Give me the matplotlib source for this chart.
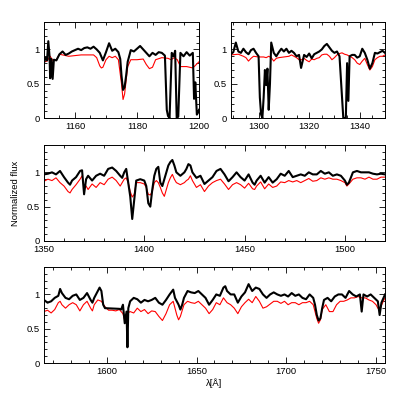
import numpy as np
import matplotlib
matplotlib.use("Agg")
import matplotlib.pyplot as plt
from matplotlib.ticker import MultipleLocator, FormatStrFormatter

# ---------------------------------------------------------------------------
# spectrum values (wavelength in Angstrom, normalized flux)
# ---------------------------------------------------------------------------

# panel 1 : 1150 - 1200
wl_obs_1 = [1150, 1150.5, 1151, 1151.4, 1151.8, 1152, 1152.4, 1152.8, 1153.2, 1154, 1155, 1156, 1157,
            1158, 1159, 1160, 1161, 1162, 1163, 1164, 1165, 1166, 1167, 1168, 1169, 1170, 1171,
            1172, 1173, 1174, 1174.6, 1175, 1175.5, 1176, 1176.5, 1177, 1178, 1179, 1180, 1181,
            1182, 1183, 1184, 1185, 1186, 1187, 1188, 1189, 1189.6, 1190, 1190.5, 1191.2, 1191.8,
            1192.3, 1192.8, 1193.3, 1194, 1195, 1196, 1197, 1198, 1198.4, 1198.8, 1199.3, 1199.7, 1200]
fl_obs_1 = [0.80, 0.88, 0.84, 1.12, 0.90, 0.58, 0.86, 0.57, 0.85, 0.84, 0.93, 0.97, 0.92,
            0.94, 0.97, 0.99, 1.01, 0.99, 1.02, 1.03, 1.01, 1.04, 1.00, 0.95, 0.84, 0.96, 1.09,
            0.98, 1.01, 0.96, 0.86, 0.62, 0.41, 0.45, 0.62, 0.82, 0.99, 0.97, 1.01, 1.05,
            1.00, 0.95, 0.90, 0.95, 0.92, 0.96, 0.95, 0.91, 0.12, 0.03, 0.00, 0.95, 0.90,
            0.98, 0.00, 0.02, 0.95, 0.90, 0.96, 0.91, 0.95, 0.28, 0.52, 0.05, 0.08, 0.12]
wl_mod_1 = [1150, 1151, 1152, 1153, 1154, 1155, 1156, 1158, 1160, 1162, 1164, 1166, 1167, 1168,
            1168.5, 1169, 1170, 1171, 1172, 1173, 1174, 1175, 1175.5, 1176, 1177, 1178, 1180,
            1182, 1183, 1184, 1185, 1186, 1188, 1190, 1191, 1192, 1193, 1194, 1196, 1198, 1200]
fl_mod_1 = [0.82, 0.83, 0.90, 0.83, 0.85, 0.93, 0.92, 0.90, 0.91, 0.92, 0.92, 0.92, 0.88, 0.76,
            0.73, 0.74, 0.85, 0.90, 0.88, 0.90, 0.85, 0.50, 0.27, 0.35, 0.75, 0.85, 0.85,
            0.86, 0.78, 0.72, 0.74, 0.85, 0.88, 0.87, 0.85, 0.88, 0.85, 0.75, 0.75, 0.73, 0.82]

# panel 2 : 1289 - 1350
wl_obs_2 = [1289, 1290, 1291, 1292, 1293, 1294, 1295, 1296, 1297, 1298, 1299, 1300, 1300.5, 1301,
            1301.5, 1302, 1302.5, 1303, 1303.5, 1304, 1304.5, 1305, 1306, 1307, 1308, 1309, 1310,
            1311, 1312, 1313, 1314, 1315, 1316, 1316.8, 1318, 1319, 1320, 1321, 1322, 1323, 1324,
            1325, 1326, 1327, 1328, 1329, 1330, 1331, 1332, 1333, 1333.5, 1334, 1334.5, 1335,
            1335.5, 1336, 1337, 1338, 1339, 1340, 1341, 1342, 1343, 1344, 1345, 1346, 1347, 1348,
            1349, 1350]
fl_obs_2 = [0.93, 0.96, 1.10, 0.97, 0.95, 1.01, 0.96, 0.93, 0.99, 1.01, 0.95, 0.90, 0.30, 0.05,
            0.00, 0.30, 0.70, 0.48, 0.72, 0.12, 0.50, 1.10, 0.95, 0.90, 0.96, 1.01, 0.97,
            1.01, 0.95, 0.98, 0.95, 0.90, 0.92, 0.73, 0.92, 0.89, 0.94, 0.87, 0.93, 0.95, 0.97,
            1.00, 1.05, 1.08, 1.03, 0.98, 0.95, 0.97, 0.90, 0.30, 0.00, 0.00, 0.00, 0.80,
            0.25, 0.90, 0.92, 0.92, 0.88, 0.90, 1.01, 0.95, 0.85, 0.72, 0.80, 0.95, 0.94, 0.96,
            0.98, 0.95]
wl_mod_2 = [1289, 1292, 1294, 1295, 1296, 1297, 1298, 1300, 1302, 1303, 1304, 1305, 1306, 1307,
            1308, 1310, 1312, 1313, 1314, 1315, 1316, 1317, 1318, 1319, 1320, 1321, 1322, 1323,
            1324, 1325, 1326, 1327, 1328, 1329, 1330, 1331, 1332, 1333, 1334, 1335, 1336, 1337,
            1338, 1339, 1340, 1341, 1342, 1343, 1344, 1345, 1346, 1347, 1348, 1349, 1350]
fl_mod_2 = [0.92, 0.93, 0.90, 0.88, 0.83, 0.87, 0.90, 0.89, 0.89, 0.88, 0.90, 0.88, 0.83, 0.87,
            0.88, 0.89, 0.90, 0.92, 0.90, 0.88, 0.85, 0.85, 0.87, 0.84, 0.82, 0.86, 0.85, 0.87,
            0.88, 0.92, 0.93, 0.93, 0.90, 0.85, 0.88, 0.92, 0.94, 0.95, 0.93, 0.92, 0.90, 0.88,
            0.85, 0.80, 0.78, 0.83, 0.87, 0.78, 0.70, 0.75, 0.85, 0.88, 0.90, 0.90, 0.92]

# panel 3 : 1350 - 1520
wl_obs_3 = [1350, 1352, 1354, 1356, 1358, 1360, 1362, 1363, 1364, 1366, 1368, 1369, 1370, 1371,
            1372, 1374, 1376, 1378, 1380, 1382, 1384, 1386, 1388, 1389, 1390, 1391, 1392, 1393,
            1394, 1395, 1396, 1398, 1400, 1401, 1402, 1403, 1404, 1405, 1406, 1407, 1408, 1409,
            1410, 1411, 1412, 1413, 1414, 1415, 1416, 1418, 1420, 1421, 1422, 1423, 1424, 1426,
            1428, 1430, 1432, 1434, 1436, 1438, 1440, 1442, 1444, 1446, 1448, 1450, 1452, 1454,
            1455, 1456, 1458, 1460, 1462, 1464, 1466, 1468, 1470, 1472, 1474, 1476, 1478, 1480,
            1482, 1484, 1486, 1488, 1490, 1492, 1494, 1496, 1498, 1500, 1501, 1502, 1504, 1506,
            1508, 1510, 1512, 1514, 1516, 1518, 1520]
fl_obs_3 = [0.97, 0.98, 1.00, 0.97, 1.02, 0.93, 0.85, 0.82, 0.88, 0.93, 1.02, 1.03, 0.68, 0.90,
            0.95, 0.88, 0.95, 0.98, 0.95, 1.05, 1.07, 1.02, 0.95, 0.92, 1.00, 1.05, 0.85, 0.65,
            0.32, 0.60, 0.88, 0.90, 0.88, 0.80, 0.55, 0.50, 0.75, 0.95, 1.05, 1.08, 0.85, 0.80,
            0.90, 1.00, 1.10, 1.15, 1.18, 1.10, 1.00, 0.95, 1.00, 1.05, 1.12, 1.10, 1.00, 0.92,
            0.95, 0.83, 0.88, 0.93, 1.02, 1.05, 0.97, 0.87, 0.93, 1.00, 0.93, 0.88, 0.97, 0.85,
            0.82, 0.88, 0.95, 0.85, 0.93, 0.85, 0.90, 0.98, 0.95, 1.02, 0.93, 0.95, 0.97, 0.95,
            1.00, 0.97, 0.97, 1.02, 0.98, 1.00, 0.95, 0.97, 0.95, 0.88, 0.82, 0.85, 1.00, 1.02,
            1.00, 1.00, 1.00, 0.98, 0.97, 0.98, 0.97]
wl_mod_3 = wl_obs_3
fl_mod_3 = [0.87, 0.90, 0.88, 0.92, 0.85, 0.80, 0.72, 0.70, 0.75, 0.82, 0.90, 0.95, 0.78, 0.80,
            0.75, 0.83, 0.78, 0.85, 0.82, 0.90, 0.93, 0.88, 0.80, 0.85, 0.90, 0.92, 0.85, 0.72,
            0.64, 0.68, 0.85, 0.85, 0.83, 0.78, 0.68, 0.67, 0.72, 0.85, 0.88, 0.85, 0.78, 0.70,
            0.65, 0.75, 0.85, 0.92, 0.97, 0.90, 0.85, 0.82, 0.85, 0.88, 0.90, 0.95, 0.88, 0.78,
            0.82, 0.72, 0.80, 0.85, 0.88, 0.90, 0.83, 0.75, 0.82, 0.85, 0.82, 0.77, 0.84, 0.76,
            0.75, 0.80, 0.86, 0.76, 0.83, 0.78, 0.80, 0.86, 0.85, 0.88, 0.86, 0.88, 0.85, 0.88,
            0.91, 0.87, 0.88, 0.92, 0.90, 0.92, 0.90, 0.90, 0.88, 0.85, 0.80, 0.83, 0.90, 0.92,
            0.92, 0.90, 0.93, 0.90, 0.90, 0.93, 0.93]

# panel 4 : 1565 - 1755
wl_obs_4 = [1565, 1567, 1569, 1571, 1573, 1574, 1575, 1577, 1579, 1581, 1583, 1585, 1587, 1589,
            1591, 1592, 1593, 1595, 1596, 1597, 1598, 1599, 1607, 1608, 1609, 1610, 1611, 1611.5,
            1612, 1613, 1615, 1617, 1619, 1621, 1623, 1625, 1627, 1629, 1631, 1633, 1635, 1637,
            1638, 1640, 1641, 1642, 1643, 1645, 1647, 1649, 1651, 1653, 1655, 1657, 1659, 1661,
            1663, 1665, 1666, 1667, 1669, 1671, 1673, 1675, 1677, 1679, 1681, 1683, 1685, 1687,
            1689, 1691, 1693, 1695, 1697, 1699, 1701, 1703, 1705, 1707, 1709, 1711, 1713, 1715,
            1716, 1717, 1718, 1719, 1720, 1721, 1723, 1725, 1727, 1729, 1731, 1733, 1735, 1737,
            1739, 1741, 1742, 1743, 1745, 1747, 1749, 1751, 1752, 1753, 1755]
fl_obs_4 = [0.92, 0.88, 0.90, 0.95, 0.98, 1.08, 1.02, 0.95, 0.93, 0.98, 1.00, 0.92, 0.95, 1.02,
            0.92, 0.88, 0.95, 1.05, 1.10, 1.05, 0.85, 0.80, 0.79, 0.78, 0.85, 0.58, 0.75, 0.23,
            0.80, 0.90, 0.95, 0.93, 0.88, 0.92, 0.90, 0.92, 0.95, 0.88, 0.85, 0.92, 1.00, 1.07,
            0.95, 0.85, 0.78, 0.85, 0.95, 1.05, 1.03, 1.02, 1.05, 1.00, 0.95, 0.85, 0.92, 1.00,
            0.98, 1.10, 1.12, 1.05, 1.00, 1.00, 0.88, 0.97, 1.03, 1.15, 1.05, 1.10, 1.08, 1.00,
            0.95, 1.00, 1.03, 1.00, 0.98, 1.00, 0.97, 1.02, 0.98, 1.00, 0.95, 0.93, 1.00, 0.95,
            0.85, 0.70, 0.62, 0.65, 0.80, 0.92, 0.95, 0.90, 0.97, 1.00, 1.00, 0.95, 1.05, 1.00,
            0.97, 1.00, 0.75, 1.00, 0.97, 1.00, 0.95, 0.90, 0.70, 0.88, 1.00]
wl_mod_4 = [1565, 1567, 1569, 1571, 1573, 1574, 1575, 1577, 1579, 1581, 1583, 1585, 1587, 1589,
            1591, 1592, 1593, 1595, 1597, 1599, 1601, 1603, 1605, 1607, 1609, 1610, 1611, 1613,
            1615, 1617, 1619, 1621, 1623, 1625, 1627, 1629, 1631, 1633, 1635, 1637, 1639, 1640,
            1641, 1643, 1645, 1647, 1649, 1651, 1653, 1655, 1657, 1659, 1661, 1663, 1665, 1667,
            1669, 1671, 1673, 1675, 1677, 1679, 1681, 1683, 1685, 1687, 1689, 1691, 1693, 1695,
            1697, 1699, 1701, 1703, 1705, 1707, 1709, 1711, 1713, 1715, 1717, 1718, 1719, 1720,
            1722, 1724, 1726, 1728, 1730, 1732, 1734, 1736, 1738, 1740, 1742, 1744, 1746, 1748,
            1750, 1751, 1752, 1754, 1755]
fl_mod_4 = [0.75, 0.77, 0.73, 0.78, 0.88, 0.90, 0.85, 0.80, 0.85, 0.88, 0.85, 0.76, 0.85, 0.90,
            0.80, 0.76, 0.85, 0.92, 0.90, 0.82, 0.77, 0.77, 0.76, 0.78, 0.72, 0.62, 0.72, 0.75,
            0.73, 0.80, 0.75, 0.78, 0.72, 0.76, 0.75, 0.68, 0.62, 0.72, 0.85, 0.90, 0.70, 0.63,
            0.68, 0.85, 0.90, 0.88, 0.87, 0.90, 0.85, 0.80, 0.72, 0.78, 0.88, 0.85, 0.95, 0.88,
            0.85, 0.80, 0.72, 0.82, 0.88, 0.93, 0.88, 0.97, 0.90, 0.80, 0.82, 0.86, 0.90, 0.90,
            0.87, 0.90, 0.85, 0.88, 0.88, 0.85, 0.88, 0.88, 0.90, 0.85, 0.65, 0.58, 0.63, 0.78,
            0.85, 0.75, 0.75, 0.85, 0.90, 0.90, 0.92, 0.95, 0.95, 0.97, 0.95, 0.95, 0.92, 0.90,
            0.85, 0.80, 0.78, 0.90, 0.95]

# panel layout: (left, bottom, width, height), x-limits, major/minor x step
panels = [
    ((0.108, 0.710, 0.381, 0.236), (1150, 1200), 20, 5, wl_obs_1, fl_obs_1, wl_mod_1, fl_mod_1),
    ((0.567, 0.710, 0.379, 0.236), (1289, 1350), 20, 5, wl_obs_2, fl_obs_2, wl_mod_2, fl_mod_2),
    ((0.108, 0.408, 0.838, 0.236), (1350, 1520), 50, 10, wl_obs_3, fl_obs_3, wl_mod_3, fl_mod_3),
    ((0.108, 0.108, 0.838, 0.236), (1565, 1755), 50, 10, wl_obs_4, fl_obs_4, wl_mod_4, fl_mod_4),
]

plt.rcParams['font.family'] = ['Liberation Sans', 'DejaVu Sans']

fig = plt.figure(figsize=(4.07, 4.07), dpi=100)

for rect, xlim, major, minor, wo, fo, wm, fm in panels:
    ax = fig.add_axes(rect)
    ax.plot(wm, fm, color='red', lw=0.8)
    ax.plot(wo, fo, color='black', lw=1.5)
    ax.set_xlim(*xlim)
    ax.set_ylim(0, 1.4)
    ax.xaxis.set_major_locator(MultipleLocator(major))
    ax.xaxis.set_minor_locator(MultipleLocator(minor))
    ax.yaxis.set_major_locator(MultipleLocator(0.5))
    ax.yaxis.set_minor_locator(MultipleLocator(0.1))
    ax.yaxis.set_major_formatter(FormatStrFormatter('%g'))
    ax.tick_params(which='both', direction='in', top=True, right=True,
                   labelsize=6.8, width=0.6, pad=3)
    ax.tick_params(which='major', length=4)
    ax.tick_params(which='minor', length=2)
    for s in ax.spines.values():
        s.set_linewidth(0.7)

fig.text(15 / 407, 1 - 193 / 407, 'Normalized flux', rotation=90,
         ha='center', va='center', fontsize=6.8)
fig.text(214.5 / 407, 1 - 383 / 407, 'λ[Å]', ha='center', va='center', fontsize=6.8)

fig.savefig('out.png', dpi=100)
